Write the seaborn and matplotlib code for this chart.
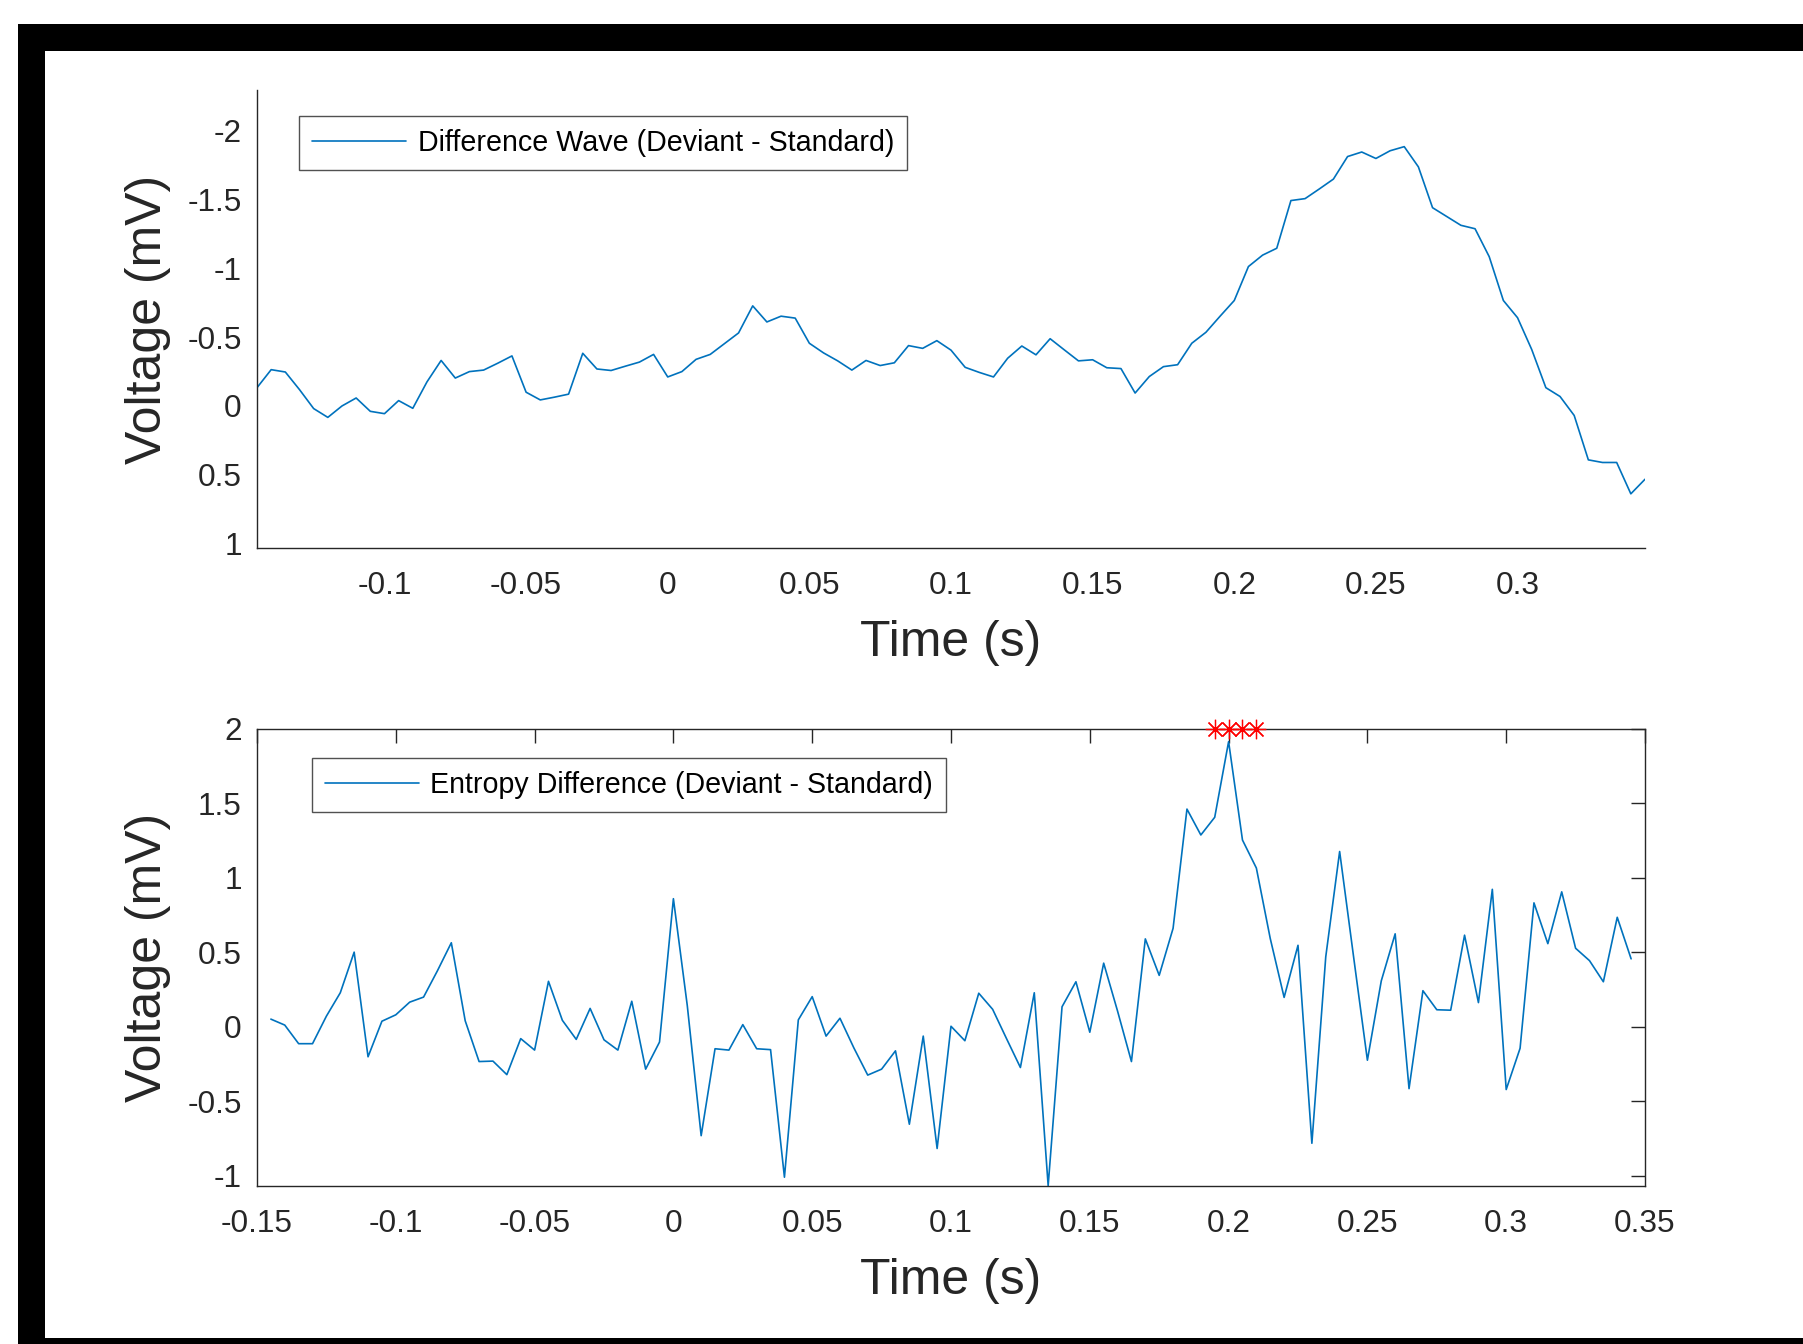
import numpy as np
import pandas as pd
import seaborn as sns
import matplotlib.pyplot as plt
from matplotlib.patches import Rectangle
from matplotlib.ticker import FuncFormatter

# sample times, 5 ms steps from -0.145 to 0.345 s
time_s = np.round(np.arange(-0.145, 0.3451, 0.005), 3)

# ERP difference wave (negative up)
diff_wave = [
    -0.133, -0.264, -0.247, -0.119, 0.019, 0.083, 0.000, -0.058, 0.039, 0.056,
    -0.039, 0.017, -0.175, -0.331, -0.203, -0.250, -0.261, -0.311, -0.364, -0.100,
    -0.044, -0.064, -0.086, -0.383, -0.269, -0.258, -0.289, -0.319, -0.375, -0.211,
    -0.250, -0.339, -0.375, -0.453, -0.531, -0.728, -0.611, -0.653, -0.639, -0.456,
    -0.386, -0.328, -0.261, -0.331, -0.294, -0.314, -0.439, -0.419, -0.475, -0.406,
    -0.281, -0.244, -0.211, -0.347, -0.436, -0.372, -0.489, -0.408, -0.328, -0.336,
    -0.278, -0.272, -0.094, -0.214, -0.286, -0.300, -0.456, -0.536, -0.653, -0.767,
    -1.014, -1.097, -1.147, -1.494, -1.508, -1.578, -1.650, -1.814, -1.847, -1.800,
    -1.856, -1.886, -1.739, -1.442, -1.378, -1.314, -1.289, -1.086, -0.767, -0.642,
    -0.411, -0.133, -0.069, 0.069, 0.392, 0.411, 0.411, 0.639, 0.533,
]

# entropy difference
entropy_diff = [
    0.051, 0.011, -0.114, -0.114, 0.071, 0.228, 0.501, -0.202, 0.037, 0.080,
    0.165, 0.199, 0.376, 0.564, 0.040, -0.234, -0.231, -0.322, -0.080, -0.157,
    0.305, 0.043, -0.085, 0.123, -0.088, -0.157, 0.171, -0.285, -0.103, 0.860,
    0.142, -0.732, -0.148, -0.157, 0.014, -0.148, -0.154, -1.011, 0.046, 0.202,
    -0.063, 0.057, -0.142, -0.325, -0.285, -0.162, -0.655, -0.063, -0.818, 0.003,
    -0.094, 0.225, 0.117, -0.080, -0.274, 0.228, -1.068, 0.134, 0.302, -0.037,
    0.427, 0.105, -0.234, 0.590, 0.345, 0.661, 1.462, 1.288, 1.407, 1.915,
    1.254, 1.066, 0.593, 0.197, 0.547, -0.783, 0.470, 1.177, 0.473, -0.225,
    0.308, 0.624, -0.416, 0.242, 0.114, 0.111, 0.615, 0.162, 0.923, -0.422,
    -0.145, 0.832, 0.558, 0.906, 0.527, 0.444, 0.302, 0.735, 0.456,
]

# significant time points
sig_times = [0.195, 0.200, 0.205, 0.210]
sig_level = [2, 2, 2, 2]

top_yticks = [-2, -1.5, -1, -0.5, 0, 0.5, 1]
top_xticks = [-0.1, -0.05, 0, 0.05, 0.1, 0.15, 0.2, 0.25, 0.3]
bot_yticks = [-1, -0.5, 0, 0.5, 1, 1.5, 2]
bot_xticks = [-0.15, -0.1, -0.05, 0, 0.05, 0.1, 0.15, 0.2, 0.25, 0.3, 0.35]

df = pd.DataFrame({"time": time_s, "diff": diff_wave, "entropy": entropy_diff})

sns.set_style("white")
plt.rcParams['font.family'] = ['Liberation Sans', 'DejaVu Sans']
plt.rcParams['axes.unicode_minus'] = False

blue = "#0072BD"
dark = "#262626"
fmt = FuncFormatter(lambda v, p: f"{v:g}")

fig = plt.figure(figsize=(18.03, 13.44), dpi=100)

# black window frame
fig.add_artist(Rectangle((18/1803, 1 - 51/1344), 1, 27/1344, transform=fig.transFigure,
                         facecolor="black", edgecolor="none"))
fig.add_artist(Rectangle((18/1803, 0), 27/1803, 1 - 24/1344, transform=fig.transFigure,
                         facecolor="black", edgecolor="none"))
fig.add_artist(Rectangle((18/1803, 0), 1, 6/1344, transform=fig.transFigure,
                         facecolor="black", edgecolor="none"))

ax1 = fig.add_axes([257/1803, 1 - 548/1344, 1388/1803, 458/1344])
ax2 = fig.add_axes([257/1803, 1 - 1186/1344, 1388/1803, 457/1344])

sns.lineplot(data=df, x="time", y="diff", ax=ax1, color=blue, linewidth=1.2,
             label="Difference Wave (Deviant - Standard)")
sns.lineplot(data=df, x="time", y="entropy", ax=ax2, color=blue, linewidth=1.2,
             label="Entropy Difference (Deviant - Standard)")
ax2.plot(sig_times, sig_level, linestyle="none", marker=(8, 2, 0), markersize=14,
         color="red", markeredgewidth=0.9, clip_on=False, zorder=5)

ax1.set_xlim(-0.145, 0.345)
ax1.set_ylim(1.033, -2.298)
ax2.set_xlim(-0.15, 0.35)
ax2.set_ylim(-1.07, 2)

ax1.set_xticks(top_xticks)
ax1.set_yticks(top_yticks)
ax2.set_xticks(bot_xticks)
ax2.set_yticks(bot_yticks)

for ax in (ax1, ax2):
    ax.xaxis.set_major_formatter(fmt)
    ax.yaxis.set_major_formatter(fmt)
    ax.tick_params(direction="in", length=10, width=1.0, colors=dark,
                   labelsize=22.7, pad=11)
    ax.tick_params(axis="x", pad=16.5)
    for s in ax.spines.values():
        s.set_color(dark)
        s.set_linewidth(1.0)
    ax.set_xlabel("Time (s)", fontsize=36, color=dark)
    ax.set_ylabel("Voltage (mV)", fontsize=36, color=dark)
    ax.yaxis.set_label_coords(-0.062, 0.5)
    ax.xaxis.set_label_coords(0.5, -0.157)

ax1.spines["top"].set_visible(False)
ax1.spines["right"].set_visible(False)
ax2.tick_params(top=True, right=True)

leg_kw = dict(loc="upper left", borderaxespad=0, fontsize=20.6, frameon=True,
              fancybox=False, handlelength=3.3, handletextpad=0.39, borderpad=0.45)
leg1 = ax1.legend(bbox_to_anchor=(0.0303, 0.943), **leg_kw)
leg2 = ax2.legend(bbox_to_anchor=(0.0396, 0.9365), **leg_kw)
for leg in (leg1, leg2):
    leg.get_frame().set_edgecolor(dark)
    leg.get_frame().set_linewidth(1.0)
    for txt in leg.get_texts():
        txt.set_color("black")

fig.savefig("out.png", dpi=100, facecolor="white")
plt.close(fig)
